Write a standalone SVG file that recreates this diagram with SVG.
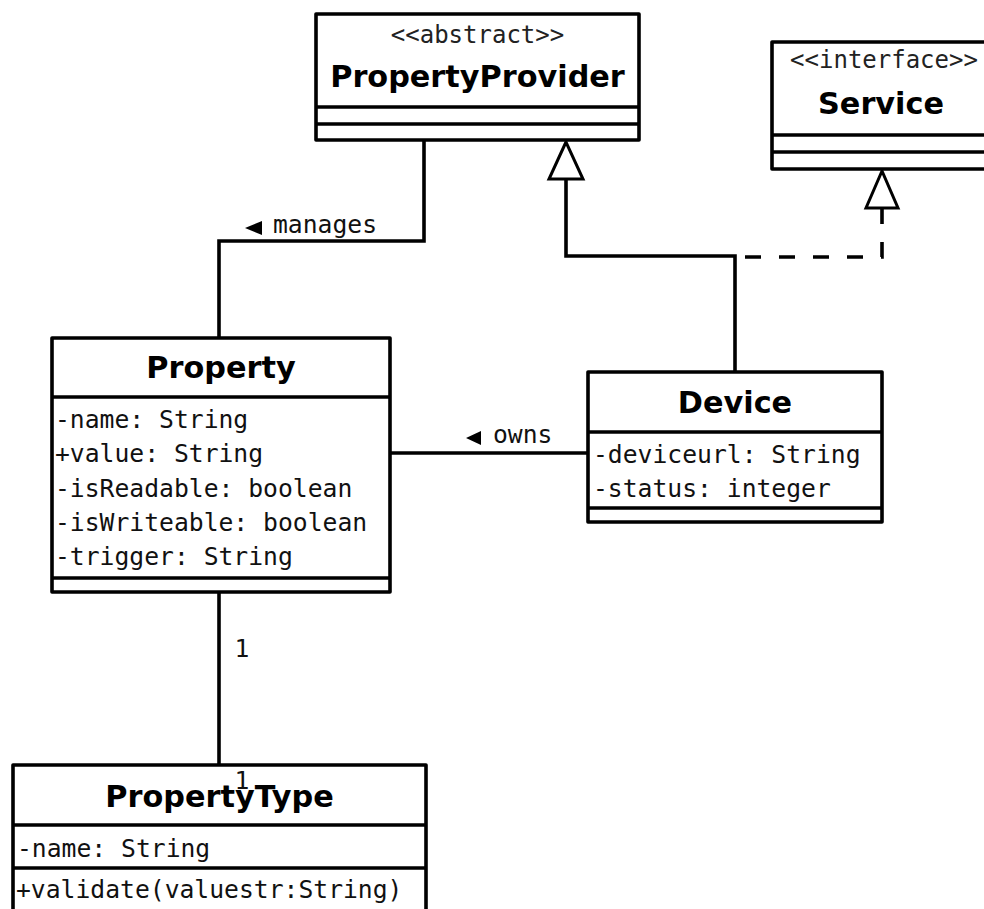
<svg xmlns="http://www.w3.org/2000/svg" width="984" height="909" viewBox="0 0 984 909">
  <style>
    .box { fill: #ffffff; stroke: #000000; stroke-width: 3.6; stroke-linejoin: round; }
    .div { stroke: #000000; stroke-width: 3.6; fill: none; }
    .line { fill: none; stroke: #000000; stroke-width: 3.6; stroke-linejoin: miter; }
    .dash { stroke-dasharray: 16 18; }
    .head { fill: #ffffff; stroke: #000000; stroke-width: 3; stroke-linejoin: miter; }
    .dir { fill: #000000; stroke: none; }
    .name { font-family: "DejaVu Sans", "Liberation Sans", sans-serif; font-weight: bold; font-size: 30.3px; fill: #000000; text-anchor: middle; }
    .mono { font-family: "DejaVu Sans Mono", "Liberation Mono", monospace; font-size: 24.7px; fill: #111111; }
    .stereo { font-family: "DejaVu Sans Mono", "Liberation Mono", monospace; font-size: 24px; fill: #222222; text-anchor: middle; }
    .mid { text-anchor: middle; }
  </style>

  <g id="connectors">
    <!-- manages: PropertyProvider to Property -->
    <path class="line" d="M 424 140 V 241 H 219 V 338"/>
    <polygon class="dir" points="245,228 262,221 262,235"/>
    <text class="mono" x="273" y="233">manages</text>
    <!-- owns: Device to Property -->
    <path class="line" d="M 390 453 H 588"/>
    <polygon class="dir" points="466,438 481,431 481,445"/>
    <text class="mono" x="493" y="443">owns</text>
    <!-- Property to PropertyType, 1..1 -->
    <path class="line" d="M 219 592 V 765"/>
    <text class="mono mid" x="242" y="657">1</text>
    <!-- Device generalises PropertyProvider -->
    <path class="line" d="M 735 372 V 256 H 566 V 179"/>
    <polygon class="head" points="566,142 549,179 583,179"/>
    <!-- Device realises Service -->
    <path class="line dash" d="M 882 208 V 257 H 735"/>
    <polygon class="head" points="882,171 866,208 898,208"/>
  </g>

  <g id="PropertyProvider">
    <rect class="box" x="316" y="14" width="323" height="126"/>
    <line class="div" x1="316" y1="107" x2="639" y2="107"/>
    <line class="div" x1="316" y1="124" x2="639" y2="124"/>
    <text class="stereo" x="477.5" y="43">&lt;&lt;abstract&gt;&gt;</text>
    <text class="name" x="477.5" y="87">PropertyProvider</text>
  </g>

  <g id="Service">
    <rect class="box" x="772" y="42" width="220" height="127"/>
    <line class="div" x1="772" y1="135" x2="992" y2="135"/>
    <line class="div" x1="772" y1="152" x2="992" y2="152"/>
    <text class="stereo" x="884" y="68">&lt;&lt;interface&gt;&gt;</text>
    <text class="name" x="881" y="114">Service</text>
  </g>

  <g id="Property">
    <rect class="box" x="52" y="338" width="338" height="254"/>
    <line class="div" x1="52" y1="397" x2="390" y2="397"/>
    <line class="div" x1="52" y1="578" x2="390" y2="578"/>
    <text class="name" x="221" y="378">Property</text>
    <text class="mono" x="55" y="428">-name: String</text>
    <text class="mono" x="55" y="462">+value: String</text>
    <text class="mono" x="55" y="497">-isReadable: boolean</text>
    <text class="mono" x="55" y="531">-isWriteable: boolean</text>
    <text class="mono" x="55" y="565">-trigger: String</text>
  </g>

  <g id="Device">
    <rect class="box" x="588" y="372" width="294" height="150"/>
    <line class="div" x1="588" y1="432" x2="882" y2="432"/>
    <line class="div" x1="588" y1="508" x2="882" y2="508"/>
    <text class="name" x="735" y="413">Device</text>
    <text class="mono" x="593" y="463">-deviceurl: String</text>
    <text class="mono" x="593" y="497">-status: integer</text>
  </g>

  <g id="PropertyType">
    <rect class="box" x="13" y="765" width="413" height="190"/>
    <line class="div" x1="13" y1="825" x2="426" y2="825"/>
    <line class="div" x1="13" y1="868" x2="426" y2="868"/>
    <text class="name" x="219.5" y="807">PropertyType</text>
    <text class="mono" x="17" y="857">-name: String</text>
    <text class="mono" x="16" y="898">+validate(valuestr:String)</text>
  </g>

  <!-- multiplicity at the PropertyType end, drawn over the class name -->
  <text class="mono mid" x="242" y="789">1</text>
</svg>
